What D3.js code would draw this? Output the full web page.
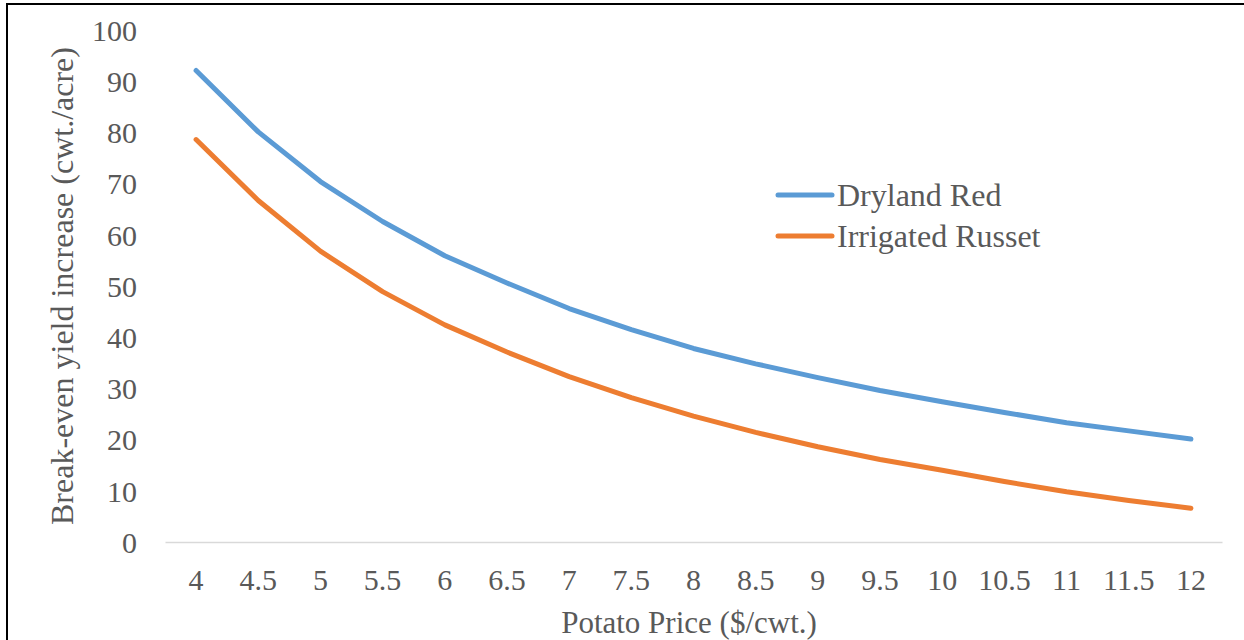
<!DOCTYPE html>
<html>
<head>
<meta charset="utf-8">
<script src="https://cdn.jsdelivr.net/npm/d3@7/dist/d3.min.js"></script>
<style>
  html, body { margin: 0; padding: 0; background: #fff; }
  svg { display: block; }
  text { font-family: "Liberation Serif", "Times New Roman", serif; fill: #595959; }
</style>
</head>
<body>
<svg id="chart" width="1244" height="640"></svg>
<script>
// Potato price categories ($/cwt.)
const prices = ["4", "4.5", "5", "5.5", "6", "6.5", "7", "7.5", "8", "8.5", "9", "9.5", "10", "10.5", "11", "11.5", "12"];
// Break-even yield increase (cwt./acre)
const drylandRed = [92.1, 80.1, 70.4, 62.6, 55.9, 50.6, 45.6, 41.5, 37.8, 34.8, 32.1, 29.6, 27.4, 25.3, 23.3, 21.7, 20.1];
const irrigatedRusset = [78.6, 66.7, 56.8, 48.9, 42.4, 37.1, 32.3, 28.2, 24.6, 21.4, 18.6, 16.1, 14.0, 11.8, 9.8, 8.1, 6.6];
const yTicks = [0, 10, 20, 30, 40, 50, 60, 70, 80, 90, 100];
const seriesNames = ["Dryland Red", "Irrigated Russet"];
const seriesColors = ["#5B9BD5", "#ED7D31"];

const svg = d3.select("#chart");
const plot = { left: 165, right: 1222, top: 30, bottom: 542 };

// Outer frame
svg.append("rect")
  .attr("x", 7).attr("y", 4)
  .attr("width", 1250).attr("height", 650)
  .attr("fill", "none").attr("stroke", "#000").attr("stroke-width", 2);

const x = d3.scaleBand().domain(prices).range([plot.left, plot.right]).padding(0);
const y = d3.scaleLinear().domain([0, 100]).range([plot.bottom, plot.top]);

// Y axis labels (no axis line, no gridlines)
const yAxis = d3.axisLeft(y).tickValues(yTicks).tickSize(0).tickPadding(0).tickFormat(d3.format("d"));
const gy = svg.append("g").attr("transform", "translate(137,0)").call(yAxis);
gy.select(".domain").remove();
gy.selectAll("text")
  .attr("font-size", 30).attr("fill", "#595959")
  .attr("font-family", "Liberation Serif, Times New Roman, serif")
  .attr("dy", "0.34em");

// X axis: horizontal baseline at zero plus category labels
const xAxis = d3.axisBottom(x).tickSize(0).tickPadding(0);
const gx = svg.append("g").attr("transform", `translate(0,${plot.bottom})`).call(xAxis);
gx.select(".domain").attr("stroke", "#d9d9d9").attr("stroke-width", 1.5);
gx.selectAll("text")
  .attr("font-size", 30).attr("fill", "#595959")
  .attr("font-family", "Liberation Serif, Times New Roman, serif")
  .attr("y", 38).attr("dy", "0.32em");

// Series lines
const line = d3.line()
  .x((d, i) => x(prices[i]) + x.bandwidth() / 2)
  .y(d => y(d));

[drylandRed, irrigatedRusset].forEach((vals, k) => {
  svg.append("path")
    .datum(vals)
    .attr("d", line)
    .attr("fill", "none")
    .attr("stroke", seriesColors[k])
    .attr("stroke-width", 5)
    .attr("stroke-linecap", "round")
    .attr("stroke-linejoin", "round");
});

// Axis titles
svg.append("text")
  .attr("x", 689)
  .attr("y", 622)
  .attr("dy", "0.34em")
  .attr("text-anchor", "middle")
  .attr("font-size", 31)
  .text("Potato Price ($/cwt.)");

svg.append("text")
  .attr("transform", `translate(62,${(plot.top + plot.bottom) / 2}) rotate(-90)`)
  .attr("dy", "0.34em")
  .attr("text-anchor", "middle")
  .attr("font-size", 32)
  .text("Break-even yield increase (cwt./acre)");

// Legend
const legend = svg.append("g").attr("transform", "translate(778,195)");
seriesNames.forEach((name, i) => {
  const g = legend.append("g").attr("transform", `translate(0,${i * 41})`);
  g.append("line")
    .attr("x1", 0).attr("x2", 54).attr("y1", 0).attr("y2", 0)
    .attr("stroke", seriesColors[i]).attr("stroke-width", 5)
    .attr("stroke-linecap", "round");
  g.append("text")
    .attr("x", 59).attr("y", 0).attr("dy", "0.34em")
    .attr("font-size", 32)
    .text(name);
});
</script>
</body>
</html>
